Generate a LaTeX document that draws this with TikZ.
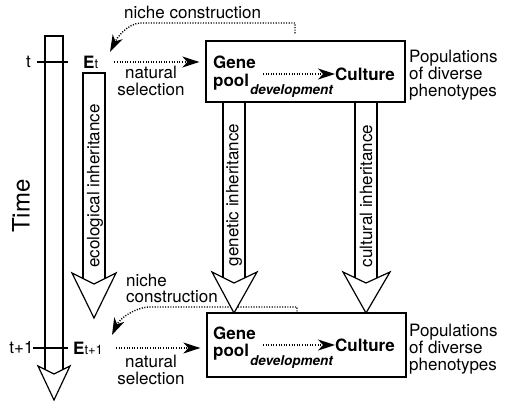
\documentclass[tikz,border=0pt]{standalone}
\usepackage{fontspec}
\setmainfont{TeX Gyre Heros}
\usetikzlibrary{arrows.meta}
\tikzset{
 txt/.style={inner sep=0pt, font=\fontsize{17}{17}\selectfont},
 boldtxt/.style={inner sep=0pt, font=\fontsize{17}{17}\selectfont\bfseries},
 devtxt/.style={inner sep=0pt, font=\fontsize{13.5}{14}\selectfont\bfseries\itshape},
 dots/.style={line width=1.4pt, dash pattern=on 1.1pt off 1.5pt},
 tipa/.style={-{Stealth[length=17pt,width=11pt,inset=5pt]}},
 fat/.style={line width=1.2pt, fill=white, line join=miter},
 boxx/.style={draw, line width=1.3pt, inner sep=0pt},
 tick/.style={line width=1.2pt},
}
\begin{document}
\begin{tikzpicture}[x=1pt,y=-1pt]
\useasboundingbox (0,0) rectangle (511,404);

% boxes
\node[boxx, minimum width=199pt, minimum height=61pt] (box1) at (305.5,71.5) {};
\node[boxx, minimum width=199pt, minimum height=64pt] (box2) at (306.5,345) {};

% time arrow
\draw[fat] (45,374) -- (45,36) -- (63,36) -- (63,374);
\draw[fat] (38,366) -- (54,400) -- (70,366) -- (54,374) -- cycle;
\node[inner sep=0pt, font=\fontsize{24}{24}\selectfont, rotate=90] (time) at (21,206) {Time};

% ticks and labels
\node[txt] (tl) at (28.5,62) {t};
\node[txt] (tl1) at (21.5,348) {t+1};
\coordinate (tk1a) at (37,62); \coordinate (tk1b) at (68,62);
\coordinate (tk2a) at (33,348); \coordinate (tk2b) at (68,348);
\draw[tick] (tk1a) -- (tk1b);
\draw[tick] (tk2a) -- (tk2b);

% environments
\node[inner sep=0pt, anchor=west] (Et) at (83,62) {\fontsize{17}{17}\selectfont\bfseries E\fontsize{13}{12}\selectfont\mdseries t};
\node[inner sep=0pt, anchor=west] (Et1) at (73,348) {\fontsize{17}{17}\selectfont\bfseries E\fontsize{13}{12}\selectfont\mdseries t+1};

% ecological inheritance arrow
\draw[fat] (83,284) -- (83,73) -- (105,73) -- (105,284);
\draw[fat] (72,273) -- (94,318) -- (116,273) -- (94,284) -- cycle;
\node[txt, rotate=90] (eco) at (95,186) {ecological inheritance};

% natural selection
\draw[dots, tipa, shorten <=16pt, shorten >=6pt] (Et.east) -- (box1.west |- Et.east);
\node[txt, align=center] (ns1) at (151,80.5) {natural\\selection};
\draw[dots, tipa, shorten <=13pt, shorten >=6pt] (Et1.east) -- (box2.west |- Et1.east);
\node[txt, align=center] (ns2) at (151,369.5) {natural\\selection};

% niche construction (top)
\node[txt, anchor=west] (nc1) at (124,12.5) {niche construction};
\coordinate (nca) at (295,23);
\coordinate (ncb) at (140,23);
\coordinate (nctip) at (110,52);
\draw[dots, tipa, shorten <=7pt] (box1.north -| nca) -- (nca) -- (ncb) .. controls (128,24) and (118,36) .. (nctip);

% niche construction (bottom)
\node[inner sep=0pt, font=\fontsize{17}{16}\selectfont, anchor=north west, align=left] (nc2) at (126,274) {niche\\construction};
\coordinate (ncc) at (297,307);
\coordinate (ncd) at (148,307);
\coordinate (nctip2) at (112,335);
\draw[dots, tipa, shorten <=1pt] (box2.north -| ncc) -- (ncc) -- (ncd) .. controls (135,308) and (120,318) .. (nctip2);

% genetic inheritance arrow
\draw[fat] (223,283) -- (223,102) -- (245,102) -- (245,283);
\draw[fat] (212,272) -- (234,313) -- (257,272) -- (234,283) -- cycle;
\node[txt, rotate=90] (gen) at (234,195) {genetic inheritance};

% cultural inheritance arrow
\draw[fat] (355,283) -- (355,102) -- (377,102) -- (377,283);
\draw[fat] (343,272) -- (366,313) -- (390,272) -- (366,283) -- cycle;
\node[txt, rotate=90] (cul) at (366,196) {cultural inheritance};

% box contents (top)
\node[inner sep=0pt, font=\fontsize{17}{18}\selectfont\bfseries, anchor=north west, align=left] (gp1) at (213,55.5) {Gene\\pool};
\node[devtxt, anchor=west] (dev1) at (250,91) {development};
\node[boldtxt, anchor=west] (cu1) at (335,74) {Culture};
\draw[dots, tipa, shorten <=7pt] (gp1.east |- cu1.west) -- (cu1.west);
\node[txt, anchor=north west, align=left] (pop1) at (409,50) {Populations\\of diverse\\phenotypes};

% box contents (bottom)
\node[inner sep=0pt, font=\fontsize{17}{17}\selectfont\bfseries, anchor=north west, align=left] (gp2) at (213,326.5) {Gene\\pool};
\node[devtxt, anchor=west] (dev2) at (250,362) {development};
\node[boldtxt, anchor=west] (cu2) at (335,345) {Culture};
\draw[dots, tipa, shorten <=7pt] (gp2.east |- cu2.west) -- (cu2.west);
\node[txt, anchor=north west, align=left] (pop2) at (409,323.5) {Populations\\of diverse\\phenotypes};
\end{tikzpicture}
\end{document}
